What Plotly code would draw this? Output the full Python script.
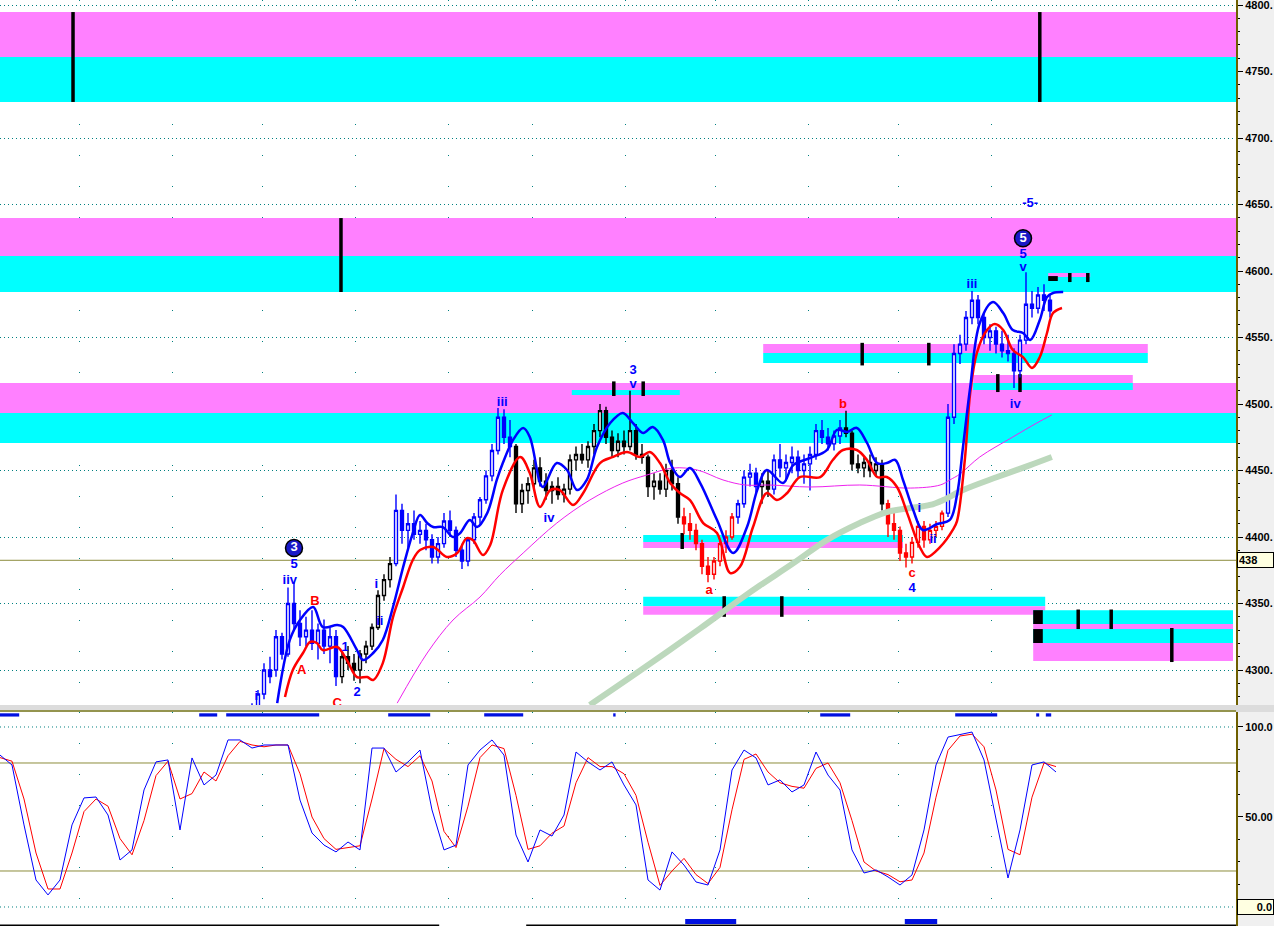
import plotly.graph_objects as go

# ---------------- data ----------------
bar_index = list(range(42, 176))
opens = [4265, 4272, 4282, 4300, 4300, 4325, 4312, 4350, 4335, 4325, 4330, 4320, 4330, 4318, 4325,
         4295, 4310, 4305, 4300, 4312, 4318, 4332, 4356, 4368,
         4380, 4420, 4405, 4410, 4402, 4405, 4398, 4385, 4395, 4412, 4405, 4390, 4382, 4398, 4415, 4428, 4446, 4465, 4490, 4475,
         4468, 4425, 4435, 4440, 4452, 4442, 4435, 4438, 4432, 4436, 4458, 4462, 4458, 4468, 4480, 4495, 4475, 4465, 4472, 4468,
         4480, 4462, 4460, 4438, 4442, 4436, 4450, 4440,
         4415, 4410, 4405, 4395, 4378, 4372, 4382, 4395, 4400,
         4415, 4425, 4445, 4448, 4438, 4442,
         4436, 4458, 4452, 4456, 4460, 4450, 4455, 4462, 4480, 4475, 4470, 4476,
         4482, 4478, 4455, 4452, 4456, 4450, 4455,
         4425, 4410, 4405, 4388, 4385, 4396, 4408, 4398, 4405, 4408,
         4418, 4490, 4538, 4545, 4565, 4578, 4565, 4550, 4555, 4545, 4540, 4538, 4525, 4548, 4575, 4572, 4582, 4578]
highs = [4275, 4285, 4305, 4310, 4330, 4328, 4362, 4366, 4345, 4340, 4345, 4335, 4338, 4332, 4330,
         4315, 4318, 4312, 4315, 4322, 4335, 4360, 4372, 4385,
         4432, 4425, 4418, 4420, 4412, 4410, 4402, 4400, 4418, 4420, 4408, 4395, 4400, 4418, 4430, 4450, 4470, 4497, 4496, 4488,
         4470, 4440, 4445, 4458, 4460, 4448, 4442, 4445, 4440, 4462, 4468, 4470, 4472, 4485, 4500, 4498, 4480, 4478, 4480, 4510,
         4485, 4470, 4462, 4448, 4448, 4455, 4458, 4445,
         4422, 4418, 4410, 4398, 4385, 4385, 4398, 4405, 4418,
         4428, 4450, 4455, 4452, 4448, 4450,
         4462, 4470, 4462, 4468, 4465, 4462, 4468, 4485, 4488, 4482, 4480, 4488,
         4495, 4480, 4462, 4460, 4462, 4460, 4458,
         4428, 4420, 4408, 4395, 4400, 4412, 4412, 4410, 4412, 4420,
         4500, 4545, 4552, 4570, 4585, 4582, 4568, 4560, 4558, 4555, 4552, 4542, 4552, 4599, 4585, 4588, 4590, 4582]
lows = [4255, 4265, 4278, 4290, 4295, 4308, 4310, 4330, 4318, 4318, 4315, 4308, 4312, 4305, 4288,
        4290, 4300, 4292, 4290, 4305, 4315, 4330, 4352, 4362,
        4378, 4395, 4392, 4398, 4395, 4390, 4380, 4380, 4392, 4400, 4385, 4376, 4378, 4395, 4410, 4425, 4442, 4462, 4470, 4460,
        4418, 4418, 4425, 4435, 4438, 4428, 4425, 4428, 4426, 4432, 4450, 4455, 4452, 4462, 4475, 4470, 4460, 4460, 4462, 4465,
        4458, 4455, 4430, 4428, 4432, 4430, 4435, 4410,
        4402, 4398, 4390, 4372, 4366, 4368, 4378, 4388, 4398,
        4410, 4422, 4438, 4432, 4425, 4430,
        4432, 4445, 4442, 4448, 4445, 4440, 4435, 4458, 4470, 4465, 4465, 4470,
        4475, 4450, 4448, 4445, 4445, 4446, 4420,
        4400, 4398, 4382, 4377, 4380, 4392, 4392, 4395, 4400, 4405,
        4415, 4485, 4530, 4540, 4560, 4560, 4545, 4540, 4538, 4535, 4532, 4512, 4520, 4545, 4565, 4568, 4570, 4565]
closes = [4272, 4282, 4300, 4295, 4325, 4312, 4350, 4335, 4325, 4330, 4320, 4330, 4318, 4325, 4295,
          4310, 4305, 4300, 4312, 4318, 4332, 4356, 4368, 4380,
          4420, 4405, 4410, 4402, 4405, 4398, 4385, 4395, 4412, 4405, 4390, 4382, 4398, 4415, 4428, 4446, 4465, 4490, 4475, 4468,
          4425, 4435, 4440, 4452, 4442, 4435, 4438, 4432, 4436, 4458, 4462, 4458, 4468, 4480, 4495, 4475, 4465, 4472, 4468, 4480,
          4462, 4460, 4438, 4442, 4436, 4450, 4440, 4415,
          4410, 4405, 4395, 4378, 4372, 4382, 4395, 4400, 4415,
          4425, 4445, 4448, 4438, 4442, 4436,
          4458, 4452, 4456, 4460, 4450, 4455, 4462, 4480, 4475, 4470, 4476, 4482,
          4478, 4455, 4452, 4456, 4450, 4455, 4425,
          4410, 4405, 4388, 4385, 4396, 4408, 4398, 4405, 4408, 4418,
          4490, 4538, 4545, 4565, 4578, 4565, 4550, 4555, 4545, 4540, 4538, 4525, 4548, 4575, 4572, 4582, 4578, 4570]
color_segments = [(42, 56, 'blue'), (57, 65, 'black'), (66, 85, 'blue'), (86, 113, 'black'),
                  (114, 122, 'red'), (123, 126, 'blue'), (127, 128, 'black'), (129, 140, 'blue'),
                  (141, 147, 'black'), (148, 157, 'red'), (158, 175, 'blue')]

upper_x = [46.2, 48.3, 50, 52.2, 53.8, 56.2, 57.2, 59.5, 60.5, 62.2, 63.8, 65.5, 67.2, 68.8, 70, 71.2, 72.2, 73.8,
           75.5, 76.7, 78.3, 79.5, 81.2, 82.8, 83.8, 85.5, 87.2, 88.3, 90, 90.5, 92.8, 94.5, 96.2, 97.8, 99.5,
           101.7, 103.8, 105.5, 107.2, 108.8, 110.5, 111.7, 113.3, 115, 116.7, 119.5, 122.2, 124.5, 126.2, 127.8,
           130.5, 132.2, 135, 137.8, 139.5, 141.2, 142.8, 144.5, 146.2, 147.8, 149.2, 150.5, 152.2, 153.8, 156.2,
           158.3, 159.5, 160.5, 161.7, 163.3, 165.5, 167.2, 168.8, 170.5, 171.7, 173.3, 174.5, 175.5, 177.2]
upper_y = [4275.1, 4322.6, 4337.6, 4347.4, 4332.3, 4333.8, 4332.3, 4315, 4307.5, 4312.8, 4322.6, 4347.4, 4377.5,
           4403, 4416.5, 4410.5, 4407.5, 4407.5, 4400, 4403, 4412.8, 4407.5, 4418, 4442.9, 4455.6, 4472.9, 4481.9,
           4475.2, 4440.6, 4437.6, 4455.6, 4450.4, 4435.3, 4442.9, 4467.7, 4485.7, 4493.3, 4485.7, 4478.2, 4482.7,
           4472.9, 4455.6, 4445.1, 4451.9, 4440.6, 4412.8, 4388, 4407.5, 4435.3, 4450.4, 4440.6, 4454.1, 4459.4,
           4465.4, 4480.5, 4479, 4482, 4470.7, 4455.6, 4455.6, 4457.9, 4442.9, 4420.3, 4405.3, 4409.8, 4412.8,
           4431.5, 4467.7, 4512.7, 4560.9, 4576.7, 4568.4, 4555.6, 4553.4, 4548.1, 4563.2, 4580.5, 4583.5, 4584.2]

lower_x = [47.5, 48.8, 50.5, 51.7, 52.8, 53.8, 56.2, 57.8, 59.5, 61.2, 62.2, 63.8, 65.5, 67.2, 68.8, 70, 72.2, 74.5,
           76.2, 77.8, 78.8, 80.5, 81.7, 83.8, 86.7, 88.3, 90, 91.7, 93.3, 95.5, 97.2, 100, 102.2, 104.5, 106.7,
           108.3, 110, 111.7, 113.3, 115, 117.2, 119.5, 121.7, 123.3, 125.5, 127.8, 129.5, 131.2, 133.3, 136.7,
           138.8, 140.5, 142.8, 144.5, 146.2, 147.8, 149.5, 151.2, 153.3, 154.5, 156.7, 158.8, 159.5, 160.8,
           161.7, 162.8, 164.5, 165.8, 167.2, 168.8, 170.5, 172, 173.3, 174.5, 175.5, 177]
lower_y = [4279.7, 4300, 4312.8, 4321.1, 4320.3, 4315, 4317.3, 4307.5, 4294.7, 4294.7, 4292.5, 4305.2, 4339.8,
           4362.4, 4382.7, 4390.2, 4392.5, 4385, 4388, 4399.2, 4397.7, 4386.5, 4394, 4435.3, 4460.2, 4448.1,
           4422.6, 4435.3, 4435.3, 4424.1, 4433.1, 4455.6, 4460.2, 4463.9, 4460.2, 4463.9, 4455.6, 4440.6, 4433.1,
           4427.8, 4410.5, 4403, 4372.9, 4377.4, 4407.5, 4433.1, 4427.8, 4433.1, 4445.1, 4445.1, 4457.9, 4465.4,
           4465.4, 4457.9, 4445.1, 4445.1, 4437.6, 4418, 4392.5, 4385, 4392.5, 4405.3, 4412, 4457.9, 4508.3,
           4538.3, 4555.6, 4560.1, 4555.6, 4540.6, 4535.3, 4527.1, 4535.3, 4553.4, 4568.4, 4572.2]

ma_mid_x = [66.2, 71.2, 75.5, 80, 83.3, 87.2, 92.8, 98.3, 103.8, 107.8, 112.2, 116.2, 120.5, 124.2, 128.3, 135,
            143.3, 151.7, 156.7, 158.3, 160, 163.3, 168.8, 172.8, 175.3]
ma_mid_y = [4275.1, 4312.8, 4337.6, 4354.9, 4371.4, 4388, 4410.5, 4427.8, 4440.6, 4446.6, 4451.9, 4450.4, 4442.9,
            4439.1, 4439.1, 4437.6, 4439.1, 4436.8, 4439.1, 4442.9, 4447.4, 4460.2, 4475.2, 4485.7, 4491.8]

ma_long_x = [98.3, 106.7, 116.7, 123.8, 126.7, 132.2, 137.8, 143.3, 147.8, 151.7, 155, 157.2, 160.5, 166.2, 171.7, 175.3]
ma_long_y = [4273.7, 4299.6, 4331.3, 4354.6, 4363.7, 4380.2, 4397.7, 4410.5, 4418.8, 4421.8, 4424.1, 4427.8,
             4435.3, 4445.1, 4454.1, 4460.2]

stoch_x = list(range(0, 177, 2))
stoch_fast = [84.4, 78.9, 45.6, 15, 6.7, 15, 45.6, 60.6, 61.1, 51.1, 26.1, 31.7, 65, 80.6, 81.7, 42.8, 82.8, 67.8,
              73.3, 92.8, 92.8, 88.3, 90, 90, 90, 59.4, 41.1, 34.4, 30.6, 36.1, 31.7, 88.3, 88.3, 75, 80.6, 87.2,
              53.9, 31.7, 34.4, 78.9, 87.2, 92.8, 84.4, 40, 25, 42.8, 39.4, 51.1, 86.1, 80.6, 76.1, 80.6, 67.8,
              56.7, 15, 9.4, 30.6, 23.3, 13.9, 12.2, 31.7, 76.1, 87.2, 82.8, 67.8, 70.6, 63.9, 67.8, 86.1, 73.3,
              65, 31.7, 18.9, 20.6, 16.7, 12.2, 17.8, 42.8, 78.9, 94.4, 95.6, 97.2, 81.7, 48.3, 16.1, 42.8, 78.9,
              80.6, 75]
stoch_slow = [83, 81, 60, 30, 10, 10, 30, 53, 60, 56, 38, 29, 48, 73, 81, 60, 63, 75, 70, 84, 92, 90, 89, 90, 90,
              74, 50, 38, 32, 33, 34, 60, 88, 82, 78, 84, 70, 42, 33, 56, 83, 90, 88, 62, 32, 34, 41, 45, 69, 83,
              78, 78, 74, 62, 36, 12, 20, 27, 18, 13, 22, 54, 82, 85, 75, 69, 67, 66, 77, 80, 69, 48, 25, 20, 18,
              14, 15, 30, 61, 87, 95, 96, 89, 65, 32, 29, 61, 80, 78]

# support / resistance zones: (start bar, end bar, low price, high price, kind)
zones = [
    (0, 206, 4760.9, 4794.7, 'm'), (0, 206, 4727.1, 4760.9, 'c'),
    (0, 206, 4611.3, 4639.8, 'm'), (0, 206, 4584.2, 4611.3, 'c'),
    (0, 206, 4493.2, 4515.8, 'm'), (0, 206, 4470.7, 4493.2, 'c'),
    (95.3, 113.3, 4506.8, 4510.5, 'c'),
    (127.2, 191.3, 4538.3, 4545.1, 'm'), (127.2, 191.3, 4530.8, 4538.3, 'c'),
    (162.2, 188.8, 4515.8, 4521.8, 'm'), (162.2, 188.8, 4510.5, 4515.8, 'c'),
    (107.2, 150.5, 4396.2, 4401.5, 'c'), (107.2, 150.5, 4391.7, 4396.2, 'm'),
    (107.2, 174.2, 4348.0, 4355.0, 'c'), (107.2, 174.2, 4341.5, 4348.0, 'm'),
    (172.2, 205.5, 4334.6, 4345.0, 'c'), (172.2, 205.5, 4330.8, 4334.6, 'm'),
    (172.2, 205.5, 4320.3, 4330.8, 'c'), (172.2, 205.5, 4306.8, 4320.3, 'm'),
    (174.7, 181.7, 4595.5, 4598.5, 'm'),
]
# time markers on zones: (bar, low price, high price)
zone_ticks = [
    (12.17, 4727.1, 4794.7), (173.3, 4727.1, 4794.7), (56.83, 4584.2, 4639.8),
    (102.3, 4506, 4517), (107.2, 4506, 4517),
    (143.7, 4529, 4546), (154.8, 4529, 4546),
    (166.3, 4509, 4522.5), (170.0, 4509, 4522.5),
    (113.7, 4391, 4403),
    (120.7, 4340, 4355.5), (130.3, 4340, 4355.5),
    (179.7, 4330.8, 4345.5), (185.2, 4330.8, 4345.5), (195.3, 4306, 4331.6),
    (178.3, 4591.7, 4598.5), (181.3, 4591.7, 4598.5),
]
zone_blocks = [(172.2, 173.8, 4334.6, 4345.0), (172.2, 173.8, 4320.3, 4330.8), (174.7, 176.3, 4592.5, 4596.2)]

week_grid = [13.33, 28.83, 43.67, 59.17, 74.83, 88.83, 104.17, 119.17, 134.67, 149.67, 165.33]
cursor_level = 4382.5
cursor_label = "438"
price_ticks = [4300, 4350, 4400, 4450, 4500, 4550, 4600, 4650, 4700, 4750, 4800]

top_markers = [(0, 3.2), (33.2, 36.2), (37.7, 53.2), (64.7, 71.7), (80.7, 87.2), (102.2, 102.6),
               (136.7, 141.7), (159.2, 166.2), (172.7, 173.2), (174.3, 175.2)]
bottom_markers = [(114.2, 122.7), (150.8, 156.2)]
bottom_rules = [(0, 73.2), (87.7, 206)]

wave_labels = [
    ("5", 49.0, 4378.9, 'b'), ("iiv", 48.3, 4366.9, 'b'), ("B", 52.5, 4351.1, 'r'), ("A", 50.3, 4299.2, 'r'),
    ("C", 56.2, 4274.5, 'r'), ("1", 57.5, 4316.5, 'b'), ("2", 59.5, 4282.7, 'b'), ("i", 42.7, 4279.7, 'b'),
    ("i", 62.7, 4364.4, 'b'), ("ii", 63.3, 4336.6, 'b'), ("iii", 83.7, 4500.8, 'b'), ("iv", 91.5, 4413.5, 'b'),
    ("3", 105.5, 4524.8, 'b'), ("v", 105.5, 4514.3, 'b'), ("a", 118.2, 4359.4, 'r'), ("b", 140.5, 4499.2, 'r'),
    ("c", 152.0, 4372.4, 'r'), ("4", 152.0, 4361.4, 'b'), ("i", 153.2, 4421.0, 'b'), ("ii", 155.5, 4397.7, 'b'),
    ("iii", 162.0, 4589.5, 'b'), ("iv", 169.2, 4499.8, 'b'), ("5", 170.5, 4612.6, 'b'), ("v", 170.5, 4602.1, 'b'),
    ("-5-", 171.7, 4650.2, 'b'),
]
circle_labels = [("3", 49.0, 4391.7), ("5", 170.5, 4624.6)]

# ---------------- styling / layout ----------------
W, H = 1274, 926
PLOT_RIGHT = 1236
MAIN_BOTTOM = 705
SUB_TOP = 712
BLUE, RED, BLACK = '#0000ff', '#ff0000', '#000000'
MAG, CYAN = '#ff80ff', '#00ffff'
TEAL = '#008080'
OLIVE = '#8c8c3c'
LABEL_FONT = "Liberation Sans"

fig = go.Figure()

col_map = {'blue': BLUE, 'black': BLACK, 'red': RED}
bar_col = {}
for a, b, c in color_segments:
    for i in range(a, b + 1):
        bar_col[i] = c

for cname, col in col_map.items():
    ks = [k for k, i in enumerate(bar_index) if bar_col[i] == cname]
    fig.add_trace(go.Candlestick(
        x=[bar_index[k] for k in ks], open=[opens[k] for k in ks], high=[highs[k] for k in ks],
        low=[lows[k] for k in ks], close=[closes[k] for k in ks],
        increasing=dict(line=dict(color=col, width=1.4), fillcolor='white'),
        decreasing=dict(line=dict(color=col, width=1.4), fillcolor=col),
        whiskerwidth=0, showlegend=False, hoverinfo='skip', xaxis='x', yaxis='y'))

fig.add_trace(go.Scatter(x=ma_long_x, y=ma_long_y, mode='lines', line=dict(color='#bcd8bc', width=6, shape='spline'),
                         showlegend=False, hoverinfo='skip', xaxis='x', yaxis='y'))
fig.add_trace(go.Scatter(x=ma_mid_x, y=ma_mid_y, mode='lines', line=dict(color='#ee22ee', width=1, shape='spline'),
                         showlegend=False, hoverinfo='skip', xaxis='x', yaxis='y'))
fig.add_trace(go.Scatter(x=lower_x, y=lower_y, mode='lines', line=dict(color=RED, width=2.5, shape='spline'),
                         showlegend=False, hoverinfo='skip', xaxis='x', yaxis='y'))
fig.add_trace(go.Scatter(x=upper_x, y=upper_y, mode='lines', line=dict(color=BLUE, width=2.5, shape='spline'),
                         showlegend=False, hoverinfo='skip', xaxis='x', yaxis='y'))

for txt, xx, yy, c in wave_labels:
    fig.add_trace(go.Scatter(x=[xx], y=[yy], mode='text', text=[txt],
                             textfont=dict(family=LABEL_FONT, size=13, color=BLUE if c == 'b' else RED, weight='bold'),
                             showlegend=False, hoverinfo='skip', xaxis='x', yaxis='y'))
for txt, xx, yy in circle_labels:
    fig.add_trace(go.Scatter(x=[xx], y=[yy], mode='markers+text', text=[txt], textposition='middle center',
                             marker=dict(size=17, color='#1818c8', line=dict(color='black', width=1.5)),
                             textfont=dict(family=LABEL_FONT, size=13, color='white', weight='bold'),
                             showlegend=False, hoverinfo='skip', xaxis='x', yaxis='y'))

# stochastic
fig.add_trace(go.Scatter(x=stoch_x, y=stoch_slow, mode='lines', line=dict(color=RED, width=1),
                         showlegend=False, hoverinfo='skip', xaxis='x2', yaxis='y2'))
fig.add_trace(go.Scatter(x=stoch_x, y=stoch_fast, mode='lines', line=dict(color=BLUE, width=1),
                         showlegend=False, hoverinfo='skip', xaxis='x2', yaxis='y2'))

shapes = []
for x0, x1, lo, hi, kind in zones:
    shapes.append(dict(type='rect', xref='x', yref='y', x0=x0, x1=x1, y0=lo, y1=hi,
                       fillcolor=MAG if kind == 'm' else CYAN, line=dict(width=0), layer='between'))
for xx, lo, hi in zone_ticks:
    shapes.append(dict(type='line', xref='x', yref='y', x0=xx, x1=xx, y0=lo, y1=hi,
                       line=dict(color=BLACK, width=3.5), layer='between'))
for x0, x1, lo, hi in zone_blocks:
    shapes.append(dict(type='rect', xref='x', yref='y', x0=x0, x1=x1, y0=lo, y1=hi,
                       fillcolor=BLACK, line=dict(width=0), layer='between'))
shapes.append(dict(type='line', xref='x', yref='y', x0=0, x1=206, y0=cursor_level, y1=cursor_level,
                   line=dict(color=OLIVE, width=1), layer='between'))
# stochastic reference lines
for lvl in (20, 80):
    shapes.append(dict(type='line', xref='x2', yref='y2', x0=0, x1=206, y0=lvl, y1=lvl,
                       line=dict(color=OLIVE, width=1), layer='between'))
for lvl in (0, 100):
    shapes.append(dict(type='line', xref='x2', yref='y2', x0=0, x1=206, y0=lvl, y1=lvl,
                       line=dict(color=TEAL, width=1, dash='1px,3px'), layer='between'))
for x0, x1 in top_markers:
    shapes.append(dict(type='rect', xref='x2', yref='y2', x0=x0, x1=x1, y0=105.8, y1=107.6,
                       fillcolor='#0010e0', line=dict(width=0)))
for x0, x1 in bottom_markers:
    shapes.append(dict(type='rect', xref='x2', yref='y2', x0=x0, x1=x1, y0=-9.4, y1=-6.7,
                       fillcolor='#0010e0', line=dict(width=0)))
for x0, x1 in bottom_rules:
    shapes.append(dict(type='line', xref='x2', yref='y2', x0=x0, x1=x1, y0=-10.1, y1=-10.1,
                       line=dict(color=BLACK, width=1.5)))
# separator between panels
shapes.append(dict(type='rect', xref='paper', yref='paper', x0=0, x1=1,
                   y0=(H - SUB_TOP) / H, y1=(H - MAIN_BOTTOM) / H, fillcolor='#dcdcdc', line=dict(width=0)))
shapes.append(dict(type='line', xref='paper', yref='paper', x0=0, x1=PLOT_RIGHT / W,
                   y0=(H - 711) / H, y1=(H - 711) / H, line=dict(color='#7c7c20', width=1.5)))

axis_font = dict(family=LABEL_FONT, size=11, color='black', weight='bold')
xdom = [0, PLOT_RIGHT / W]
common_x = dict(domain=xdom, range=[0, 206], showticklabels=False, ticks='', tickvals=week_grid,
                showgrid=True, gridcolor=TEAL, griddash='1px,30px', gridwidth=1, zeroline=False,
                showline=False, fixedrange=True, automargin=False)

fig.update_layout(
    width=W, height=H, margin=dict(l=0, r=0, t=0, b=0, autoexpand=False),
    paper_bgcolor='#f0f0f0', plot_bgcolor='white', showlegend=False,
    xaxis=dict(**common_x, anchor='y', rangeslider=dict(visible=False)),
    xaxis2=dict(**common_x, anchor='y2', matches='x', rangeslider=dict(visible=False)),
    yaxis=dict(domain=[(H - MAIN_BOTTOM) / H, 1], range=[4273.7, 4803.76], side='right', anchor='x',
               tickvals=price_ticks, ticktext=[f"{v}." for v in price_ticks], ticks='outside', ticklen=5,
               tickcolor='black', tickfont=axis_font, showline=True, linecolor='#6e5f00', linewidth=2,
               ticklabeloverflow='allow', automargin=False,
               showgrid=True, gridcolor=TEAL, griddash='1px,3px', gridwidth=1, zeroline=False,
               minor=dict(dtick=10, ticks='outside', ticklen=2, tickcolor='black', showgrid=False),
               fixedrange=True),
    yaxis2=dict(domain=[0, (H - SUB_TOP) / H], range=[-10.56, 108.33], side='right', anchor='x2',
                tickvals=[50, 100], ticktext=["50.00", "100.0"], ticks='outside', ticklen=5,
                tickcolor='black', tickfont=axis_font, showline=True, linecolor='#6e5f00', linewidth=2,
                showgrid=False, zeroline=False, automargin=False,
                minor=dict(dtick=12.5, ticks='outside', ticklen=2, tickcolor='black', showgrid=False),
                fixedrange=True),
    shapes=shapes,
    annotations=[
        dict(xref='paper', yref='y', x=(PLOT_RIGHT + 1) / W, y=cursor_level, xanchor='left', yanchor='middle',
             text=cursor_label, showarrow=False, bgcolor='#ffffe1', bordercolor='black', borderwidth=1,
             borderpad=1, width=33, align='left', font=axis_font),
        dict(xref='paper', yref='y2', x=1, y=0, xanchor='right', yanchor='middle', text="0.0", showarrow=False,
             bgcolor='#ffffe1', bordercolor='black', borderwidth=1, borderpad=1, width=33, align='right',
             font=axis_font),
    ],
)

fig.write_html("out.html", config={'displayModeBar': False},
               post_script="document.body.style.margin='0';document.body.style.overflow='hidden';")
